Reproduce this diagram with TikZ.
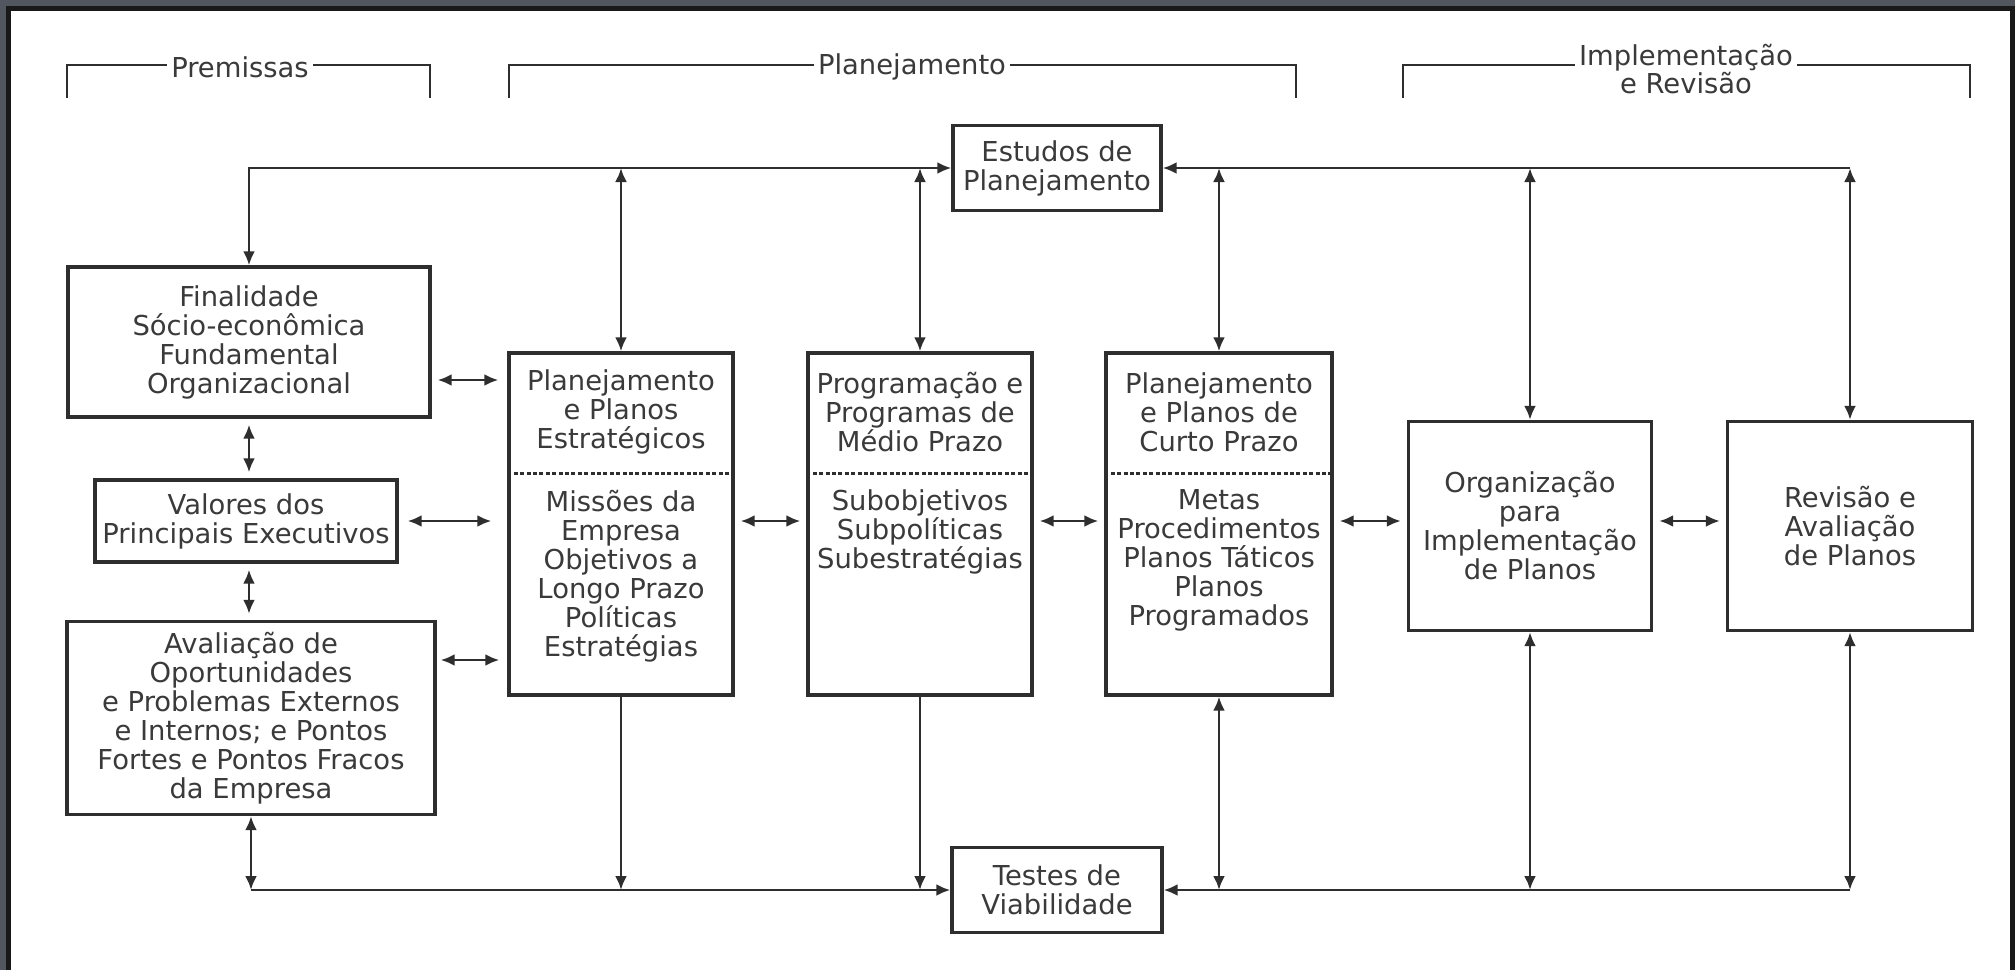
\documentclass[tikz,border=0pt]{standalone}
\usepackage{fontspec}
\setmainfont{DejaVu Sans}
\usepackage{tikz}
\usepackage{xcolor}
\usetikzlibrary{arrows.meta,positioning}
\definecolor{linecol}{HTML}{2E2E2E}
\definecolor{textcol}{HTML}{3A3A3A}
\definecolor{framegray}{HTML}{52565E}
\tikzset{
    plan-box/.style = {draw=linecol, line width=1.6pt, rectangle, inner sep=2pt, align=center, text=textcol, font=\fontsize{13.7pt}{14.5pt}\selectfont},
    plan-text/.style = {align=center, inner sep=0pt, text=textcol, font=\fontsize{13.7pt}{14.5pt}\selectfont},
    plan-divider/.style = {draw=linecol, line width=1.2pt, dash pattern=on 2pt off 1.2pt},
    plan-bracket/.style = {draw=linecol, line width=1.2pt},
    plan-bracket-title/.style = {fill=white, inner xsep=2pt, inner ysep=1pt, align=center, text=textcol, font=\fontsize{13.7pt}{14pt}\selectfont},
    link/.style = {draw=linecol, line width=1.4pt},
    gap/.style = {shorten <=3pt, shorten >=3pt},
    >={Latex[length=7pt,width=6pt]},
}

\begin{document}
\begin{tikzpicture}[x=0.5pt, y=-0.5pt]
\useasboundingbox (0,0) rectangle (2015,970);
\fill[framegray] (0,0) rectangle (2015,970);
\fill[black!90] (6,6) rectangle (2015,970);
\fill[white] (11,11) rectangle (2010,970);

% brackets on top
\draw[plan-bracket] (67,98) -- (67,65) -- (430,65) -- (430,98);
\draw[plan-bracket] (509,98) -- (509,65) -- (1296,65) -- (1296,98);
\draw[plan-bracket] (1403,98) -- (1403,65) -- (1970,65) -- (1970,98);
\node[plan-bracket-title] (premissas) at (240,67) {Premissas};
\node[plan-bracket-title] (planejamento) at (912,67) {Planejamento};
\node[plan-bracket-title] (implementacao) at (1686,69) {Implementação\\e Revisão};

% boxes
\node[plan-box, minimum width=104pt, minimum height=42.5pt] (estudos) at (1057,168) {Estudos de\\Planejamento};
\node[plan-box, minimum width=181pt, minimum height=75pt] (finalidade) at (249,342) {Finalidade\\Sócio-econômica\\Fundamental\\Organizacional};
\node[plan-box, minimum width=151pt, minimum height=41pt] (valores) at (246,521) {Valores dos\\Principais Executivos};
\node[plan-box, minimum width=184pt, minimum height=96.5pt] (avaliacao) at (251,718) {Avaliação de\\Oportunidades\\e Problemas Externos\\e Internos; e Pontos\\Fortes e Pontos Fracos\\da Empresa};
\node[plan-box, minimum width=112pt, minimum height=171pt] (estrategico) at (621,524) {};
\node[plan-box, minimum width=112pt, minimum height=171pt] (medio) at (920,524) {};
\node[plan-box, minimum width=113pt, minimum height=171pt] (curto) at (1219,524) {};
\node[plan-box, minimum width=121.5pt, minimum height=104.5pt] (organizacao) at (1530,526) {Organização\\para\\Implementação\\de Planos};
\node[plan-box, minimum width=122.5pt, minimum height=104.5pt] (revisao) at (1850,526) {Revisão e\\Avaliação\\de Planos};
\node[plan-box, minimum width=105pt, minimum height=42.5pt] (testes) at (1057,890) {Testes de\\Viabilidade};

% split boxes
\foreach \n in {estrategico, medio, curto}
    \draw[plan-divider] ([yshift=-61pt]\n.north west) -- ([yshift=-61pt]\n.north east);
\node[plan-text] (estrategico-title) at ([yshift=-30.5pt]estrategico.north) {Planejamento\\e Planos\\Estratégicos};
\node[plan-text, below=8pt] (estrategico-body) at ([yshift=-61pt]estrategico.north) {Missões da\\Empresa\\Objetivos a\\Longo Prazo\\Políticas\\Estratégias};
\node[plan-text] (medio-title) at ([yshift=-30.5pt]medio.north) {Programação e\\Programas de\\Médio Prazo};
\node[plan-text, below=8pt] (medio-body) at ([yshift=-61pt]medio.north) {Subobjetivos\\Subpolíticas\\Subestratégias};
\node[plan-text] (curto-title) at ([yshift=-30.5pt]curto.north) {Planejamento\\e Planos de\\Curto Prazo};
\node[plan-text, below=8pt] (curto-body) at ([yshift=-61pt]curto.north) {Metas\\Procedimentos\\Planos Táticos\\Planos\\Programados};

% top line
\draw[link, <->] (estudos.west) -| (finalidade.north);
\draw[link, <-] (estudos.east) -- (estudos.east -| revisao.north);
\foreach \n in {estrategico, medio, curto, organizacao, revisao}
    \draw[link, <->] (\n.north) -- (\n.north |- estudos.east);

% bottom line
\draw[link, <-] (testes.west) -- (testes.west -| avaliacao.south);
\draw[link, <->] (avaliacao.south) -- (avaliacao.south |- testes.west);
\draw[link, <-] (testes.east) -- (testes.east -| revisao.south);
\foreach \n in {estrategico, medio}
    \draw[link, ->] (\n.south) -- (\n.south |- testes.west);
\foreach \n in {curto, organizacao, revisao}
    \draw[link, <->] (\n.south) -- (\n.south |- testes.east);

% left column
\draw[link, <->, gap] (finalidade.south) -- (finalidade.south |- valores.north);
\draw[link, <->, gap] (finalidade.south |- valores.south) -- (finalidade.south |- avaliacao.north);
\draw[link, <->, shorten <=3pt, shorten >=4.5pt] ([yshift=-19pt]finalidade.east) -- ([yshift=-19pt]finalidade.east -| estrategico.west);
\draw[link, <->, shorten <=4.5pt, shorten >=8pt] (valores.east) -- (valores.east -| estrategico.west);
\draw[link, <->, shorten <=2pt, shorten >=4pt] ([yshift=29pt]avaliacao.east) -- ([yshift=29pt]avaliacao.east -| estrategico.west);

% middle row
\draw[link, <->, gap] (estrategico.east |- valores.east) -- (medio.west |- valores.east);
\draw[link, <->, gap] (medio.east |- valores.east) -- (curto.west |- valores.east);
\draw[link, <->, gap] (curto.east |- valores.east) -- (organizacao.west |- valores.east);
\draw[link, <->, gap] (organizacao.east |- valores.east) -- (revisao.west |- valores.east);
\end{tikzpicture}
\end{document}
